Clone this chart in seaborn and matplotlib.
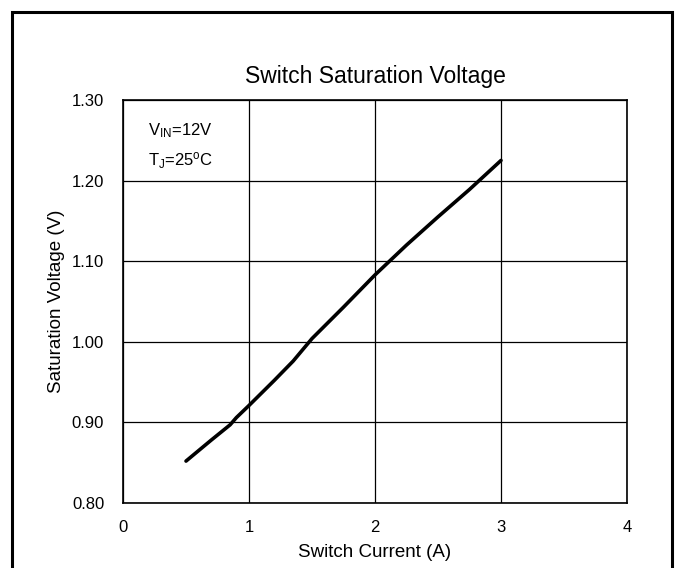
import matplotlib
matplotlib.use("Agg")
import matplotlib.pyplot as plt
import matplotlib.patches as patches
import seaborn as sns
import pandas as pd

current = [0.5, 0.7, 0.85, 0.9, 1.0, 1.2, 1.35, 1.5, 1.75, 2.0, 2.25, 2.5, 2.75, 3.0]
voltage = [0.852, 0.878, 0.897, 0.906, 0.921, 0.952, 0.976, 1.004, 1.043, 1.083, 1.120, 1.155, 1.189, 1.225]
x_ticks = [0, 1, 2, 3, 4]
y_ticks = [0.80, 0.90, 1.00, 1.10, 1.20, 1.30]

sns.set_style("white")
plt.rcParams['font.family'] = ['Liberation Sans', 'DejaVu Sans']
plt.rcParams['mathtext.fontset'] = 'custom'
plt.rcParams['mathtext.rm'] = 'Liberation Sans'
plt.rcParams['mathtext.it'] = 'Liberation Sans:italic'
plt.rcParams['text.color'] = 'black'
plt.rcParams['axes.labelcolor'] = 'black'
plt.rcParams['xtick.color'] = 'black'
plt.rcParams['ytick.color'] = 'black'

df = pd.DataFrame({"Switch Current (A)": current, "Saturation Voltage (V)": voltage})

fig = plt.figure(figsize=(6.85, 5.68), dpi=100)
ax = fig.add_axes([123/685, 1 - 503/568, 504/685, 403/568])
sns.lineplot(data=df, x="Switch Current (A)", y="Saturation Voltage (V)", ax=ax,
             color="black", linewidth=2.6, sort=False)

ax.set_xlim(0, 4)
ax.set_ylim(0.8, 1.3)
ax.set_xticks(x_ticks)
ax.set_yticks(y_ticks)
ax.set_xticklabels([str(v) for v in x_ticks])
ax.set_yticklabels([f"{v:.2f}" for v in y_ticks])
ax.grid(True, color="black", linewidth=0.9)
for s in ax.spines.values():
    s.set_color("black")
    s.set_linewidth(1.2)
ax.tick_params(axis='both', length=0, labelsize=12, colors="black")
ax.tick_params(axis='x', pad=12.5)
ax.tick_params(axis='y', pad=13.5)
ax.set_xlabel("Switch Current (A)", fontsize=13.5, labelpad=6)
ax.set_ylabel("Saturation Voltage (V)", fontsize=13.5, labelpad=5)
ax.set_title("Switch Saturation Voltage", fontsize=16.5, pad=12)

ax.text(0.05, 0.925, r"V$\mathregular{_{IN}}$=12V", transform=ax.transAxes,
        fontsize=12, ha="left", va="center")
ax.text(0.05, 0.85, r"T$\mathregular{_J}$=25$\mathregular{^o}$C", transform=ax.transAxes,
        fontsize=12, ha="left", va="center")

border = patches.Rectangle((12/685, -0.05), 660/685, 1.05 - 12/568, transform=fig.transFigure,
                           fill=False, edgecolor="black", linewidth=2.2, clip_on=False)
fig.patches.append(border)

fig.savefig("out.png", dpi=100)
